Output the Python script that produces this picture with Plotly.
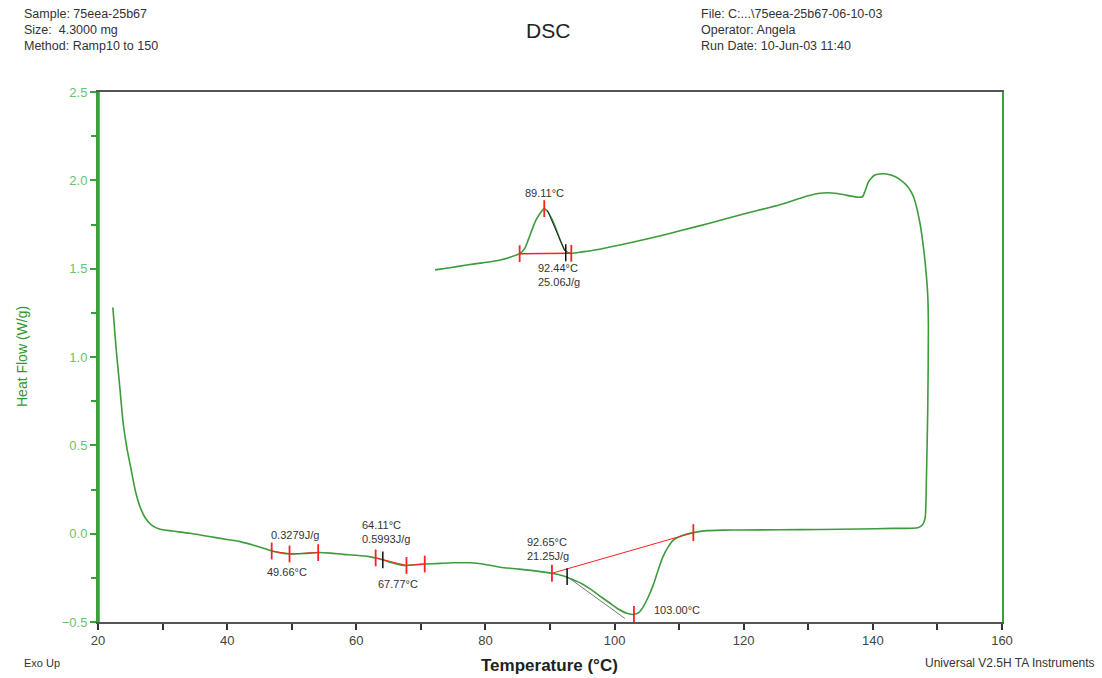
import plotly.graph_objects as go

# ---- DSC trace: heating run followed by the cooling run (path order) ----
temp_c = [
    22.3, 22.8, 23.4, 23.9, 24.5, 25.2, 25.8, 26.5, 27.3, 28.3, 29.6, 31.5, 34.2,
    37.0, 40.0, 42.0, 44.5, 46.9, 48.5, 50.0, 52.0, 54.1, 56.0, 58.0, 60.0, 62.0,
    63.2, 64.1, 65.5, 67.0, 67.8, 69.0, 70.6, 73.0, 75.0, 77.6, 80.0, 82.3, 85.0,
    88.0, 90.3, 92.0, 93.5, 95.0, 96.5, 98.0, 99.3, 100.5, 101.9, 102.9, 103.8,
    104.5, 105.2, 106.0, 106.8, 107.5, 108.3, 109.1, 110.5, 112.2, 114.3, 117.0,
    119.4, 125.6, 132.0, 138.0, 143.0, 147.0, 147.7, 148.1, 148.3, 148.5, 148.6,
    148.5, 148.3, 147.9, 147.3, 146.3, 145.5, 144.7, 143.5, 142.1, 141.0, 140.3,
    139.7, 139.3, 138.8, 138.4, 137.7, 136.0, 134.5, 133.0, 131.5, 129.0, 125.6,
    120.0, 115.0, 110.0, 105.5, 101.0, 97.7, 95.0, 93.1, 92.3, 91.6, 91.0, 90.3,
    89.7, 89.1, 88.5, 87.9, 87.4, 86.7, 86.1, 85.3, 84.8, 82.3, 79.5, 77.1, 74.5,
    72.2,
]
heat_flow = [
    1.28, 1.05, 0.82, 0.625, 0.48, 0.35, 0.24, 0.153, 0.09, 0.049, 0.025, 0.015, 0.002,
    -0.015, -0.033, -0.045, -0.07, -0.098, -0.11, -0.115, -0.112, -0.107, -0.11, -0.117,
    -0.122, -0.13, -0.139, -0.148, -0.165, -0.178, -0.18, -0.176, -0.172, -0.168, -0.165,
    -0.165, -0.175, -0.19, -0.2, -0.212, -0.224, -0.238, -0.26, -0.285, -0.32, -0.36,
    -0.394, -0.425, -0.451, -0.457, -0.445, -0.41, -0.36, -0.29, -0.2, -0.13, -0.075,
    -0.036, -0.01, 0.006, 0.017, 0.02, 0.021, 0.022, 0.024, 0.026, 0.03, 0.034, 0.05,
    0.09, 0.32, 0.7, 1.17, 1.35, 1.455, 1.6, 1.757, 1.907, 1.96, 1.99, 2.02, 2.036,
    2.036, 2.03, 2.01, 1.99, 1.94, 1.907, 1.904, 1.915, 1.925, 1.93, 1.925, 1.902,
    1.862, 1.81, 1.76, 1.713, 1.672, 1.635, 1.61, 1.595, 1.587, 1.606, 1.66, 1.719,
    1.78, 1.82, 1.84, 1.815, 1.78, 1.738, 1.67, 1.615, 1.585, 1.577, 1.549, 1.533,
    1.521, 1.505, 1.493,
]

# ---- analysis markers ----
# glass transition near 49.66 °C
tg1_T = [46.9, 49.66, 54.1]
tg1_hf = [-0.098, -0.115, -0.107]
# glass transition near 67.77 °C
tg2_T = [63.0, 67.77, 70.6]
tg2_hf = [-0.137, -0.18, -0.172]
tg2_onset = (64.11, -0.148)
# endotherm (melting) 103.00 °C
melt_base_T = [90.3, 112.2]
melt_base_hf = [-0.224, 0.006]
melt_peak = (103.00, -0.457)
melt_onset = (92.65, -0.243)
melt_tangent_T = [92.65, 101.6]
melt_tangent_hf = [-0.243, -0.48]
# exotherm (crystallisation) 89.11 °C on cooling
cryst_base_T = [85.3, 93.3]
cryst_base_hf = [1.585, 1.587]
cryst_peak = (89.11, 1.84)
cryst_onset = (92.44, 1.59)
cryst_tangent_T = [89.6, 92.3]
cryst_tangent_hf = [1.83, 1.60]

GREEN = "#3c9c3c"
RED = "#ff2020"
TXT = "#333333"
FONT = "Liberation Sans, Arial, sans-serif"

fig = go.Figure()

fig.add_trace(go.Scatter(x=temp_c, y=heat_flow, mode="lines", line_shape="spline",
                         line=dict(color=GREEN, width=1.6, smoothing=0.6),
                         hoverinfo="skip"))

tick_mark = dict(symbol="line-ns", size=12, line=dict(color=RED, width=1.8))
black_mark = dict(symbol="line-ns", size=12, line=dict(color="#111111", width=1.5))

# baselines / connecting lines
fig.add_trace(go.Scatter(x=tg1_T, y=tg1_hf, mode="lines+markers",
                         line=dict(color=RED, width=1), marker=tick_mark))
fig.add_trace(go.Scatter(x=tg2_T, y=tg2_hf, mode="lines+markers",
                         line=dict(color=RED, width=1), marker=tick_mark))
fig.add_trace(go.Scatter(x=melt_tangent_T, y=melt_tangent_hf, mode="lines",
                         line=dict(color="#777777", width=1)))
fig.add_trace(go.Scatter(x=melt_base_T, y=melt_base_hf, mode="lines+markers",
                         line=dict(color=RED, width=1), marker=tick_mark))
fig.add_trace(go.Scatter(x=[melt_peak[0]], y=[melt_peak[1]], mode="markers",
                         marker=tick_mark))
fig.add_trace(go.Scatter(x=cryst_tangent_T, y=cryst_tangent_hf, mode="lines",
                         line=dict(color="#222222", width=1)))
fig.add_trace(go.Scatter(x=cryst_base_T, y=cryst_base_hf, mode="lines+markers",
                         line=dict(color=RED, width=1.5), marker=tick_mark))
fig.add_trace(go.Scatter(x=[cryst_peak[0]], y=[cryst_peak[1]], mode="markers",
                         marker=tick_mark))
fig.add_trace(go.Scatter(x=[tg2_onset[0], melt_onset[0], cryst_onset[0]],
                         y=[tg2_onset[1], melt_onset[1], cryst_onset[1]],
                         mode="markers", marker=black_mark))

lab_font = dict(family=FONT, size=11, color=TXT)


def label(x, y, text, dx, dy, xanchor="left", yanchor="middle"):
    fig.add_annotation(x=x, y=y, xref="x", yref="y", text=text, showarrow=False,
                       xshift=dx, yshift=dy, xanchor=xanchor, yanchor=yanchor,
                       font=lab_font, align="left")


label(cryst_peak[0], cryst_peak[1], "89.11°C", 0, 16, xanchor="center")
label(cryst_onset[0], cryst_onset[1], "92.44°C<br>25.06J/g", -30, -7, yanchor="top")
label(tg1_T[1], tg1_hf[1], "0.3279J/g", -21, 19)
label(tg1_T[1], tg1_hf[1], "49.66°C", -25, -18)
label(tg2_onset[0], tg2_onset[1], "64.11°C<br>0.5993J/g", -23, 13, yanchor="bottom")
label(tg2_T[1], tg2_hf[1], "67.77°C", -30, -19)
label(melt_onset[0], melt_onset[1], "92.65°C<br>21.25J/g", -42, 13, yanchor="bottom")
label(melt_peak[0], melt_peak[1], "103.00°C", 18, 4)

# ---- header and footer text (positions in page pixels) ----
W, H = 1102, 678
ML, MR, MT, MB = 98, 100, 92, 56
pw, ph = W - ML - MR, H - MT - MB


def page_text(px, py, text, size, color=TXT, xanchor="left", yanchor="middle",
              angle=0):
    fig.add_annotation(x=(px - ML) / pw, y=1 - (py - MT) / ph, xref="paper",
                       yref="paper", text=text, showarrow=False, align="left",
                       xanchor=xanchor, yanchor=yanchor, textangle=angle,
                       font=dict(family=FONT, size=size, color=color))


hdr_left = ["Sample: 75eea-25b67", "Size:  4.3000 mg", "Method: Ramp10 to 150"]
hdr_right = ["File: C:...\\75eea-25b67-06-10-03", "Operator: Angela",
             "Run Date: 10-Jun-03 11:40"]
for i, (a, b) in enumerate(zip(hdr_left, hdr_right)):
    page_text(22, 14 + 16 * i, a, 12.5)
    page_text(699, 14 + 16 * i, b, 12.5)

page_text(548, 30, "DSC", 21, color="#222222", xanchor="center")
page_text(22, 663, "Exo Up", 11)
page_text(1097, 663, "Universal V2.5H TA Instruments", 12, xanchor="right")
page_text(549, 665, "<b>Temperature (°C)</b>", 17, color="#222222", xanchor="center")
page_text(22, 357, "Heat Flow (W/g)", 14, color="#2e9a2e", xanchor="center", angle=-90)

# thicker left frame edge
fig.add_shape(type="line", xref="x", yref="paper", x0=20, x1=20, y0=0, y1=1,
              line=dict(color="#3aa03a", width=3.5))

fig.update_layout(
    width=W, height=H,
    margin=dict(l=ML, r=MR, t=MT, b=MB),
    paper_bgcolor="white", plot_bgcolor="white",
    showlegend=False,
    xaxis=dict(range=[20, 160], tick0=20, dtick=20, ticks="outside", ticklen=6,
               tickcolor="#333333", tickwidth=1.5, showgrid=False, zeroline=False,
               showline=True, linecolor="#555555", linewidth=1.5, mirror=True,
               tickfont=dict(family=FONT, size=13, color="#444444"),
               minor=dict(dtick=10, ticks="outside", ticklen=6, tickcolor="#333333",
                          tickwidth=1.5)),
    yaxis=dict(range=[-0.5, 2.5], tick0=-0.5, dtick=0.5, tickformat=".1f",
               ticks="outside", ticklen=6, tickcolor="#3aa03a", tickwidth=1.5,
               showgrid=False, zeroline=False, showline=True, linecolor="#3aa03a",
               linewidth=2, mirror=True,
               tickfont=dict(family=FONT, size=13, color="#6cbf6c"),
               minor=dict(dtick=0.25, ticks="outside", ticklen=5, tickcolor="#3aa03a",
                          tickwidth=1.5)),
)

fig.write_html("out.html")
